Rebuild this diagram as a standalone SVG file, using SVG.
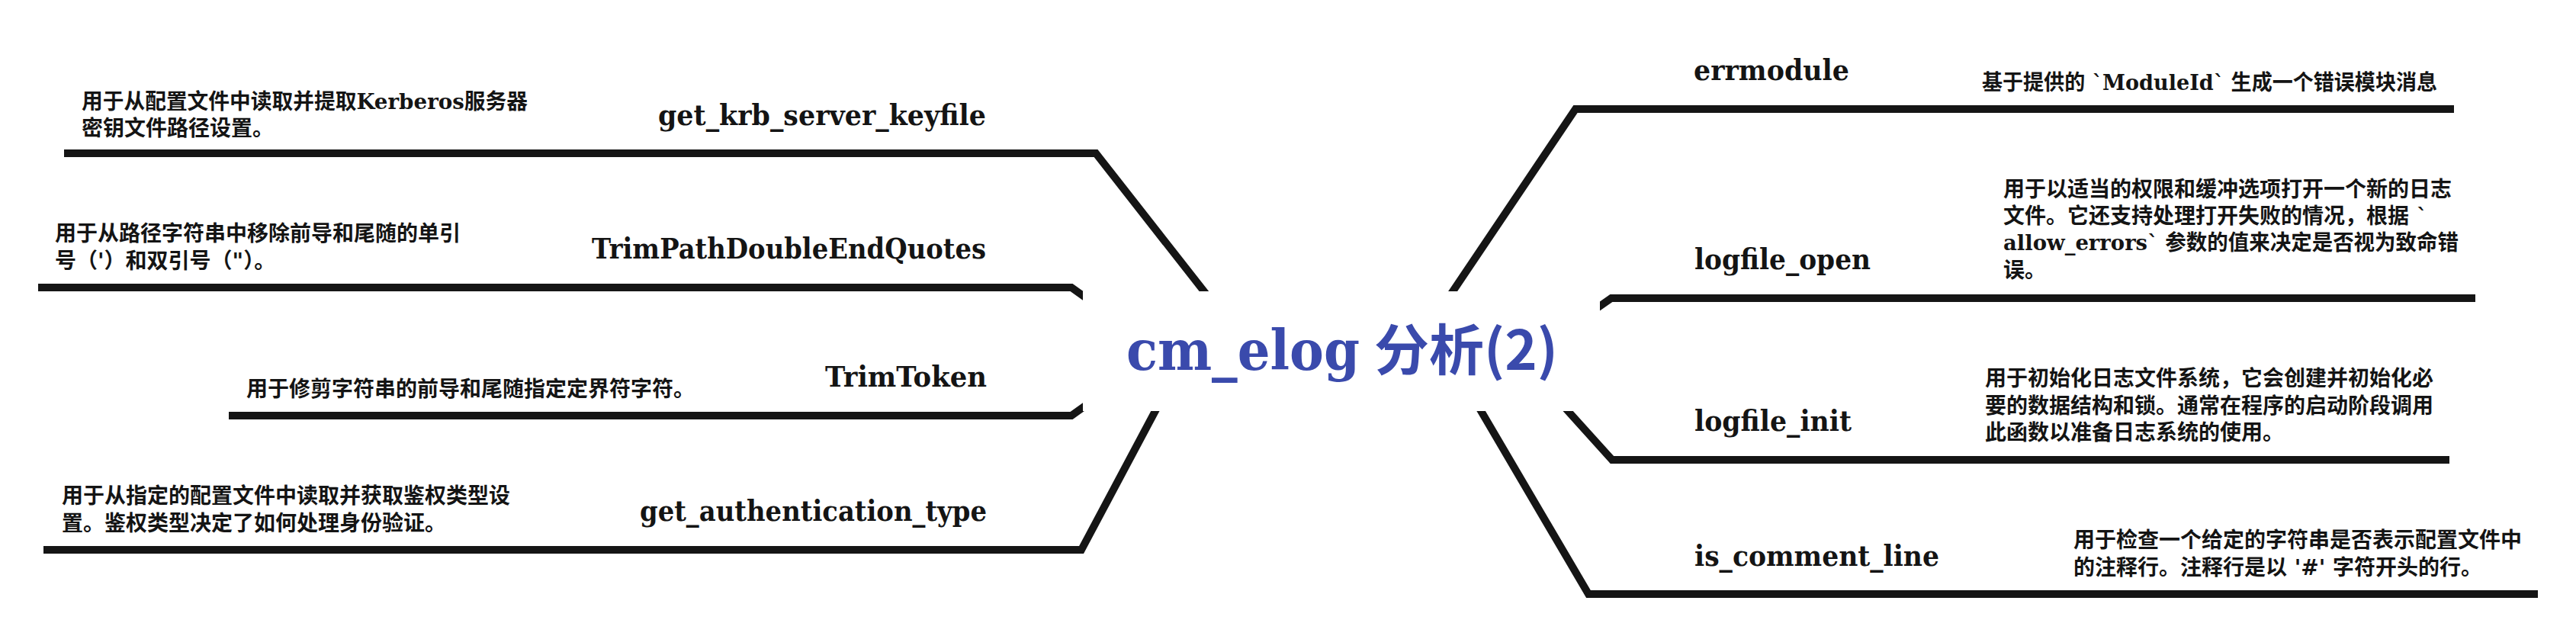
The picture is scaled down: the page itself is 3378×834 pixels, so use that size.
<svg xmlns="http://www.w3.org/2000/svg" width="3378" height="834" viewBox="0 0 3378 834">
<style>
.page{fill:#ffffff}
.conn{fill:none;stroke:#151515;stroke-width:10;stroke-linejoin:miter;stroke-linecap:butt}
.cbox{fill:#ffffff}
.lbl{font-family:"DejaVu Serif","Liberation Serif",serif;font-weight:bold;font-size:38px;fill:#141414}
.desc{font-family:"DejaVu Serif","Noto Sans CJK SC",sans-serif;font-weight:bold;font-size:28px;fill:#141414}
.t1{font-family:"DejaVu Serif","Liberation Serif",serif;font-weight:bold;font-size:72px;fill:#3A4AAC}
.t2{font-family:"Noto Sans CJK SC",sans-serif;font-weight:bold;font-size:72px;fill:#3A4AAC}
</style>
<rect class="page" x="0" y="0" width="3378" height="834"/>
<g id="connectors">
<path class="conn" d="M84 201 H1437 L1593 400"/>
<path class="conn" d="M50 377 H1405 L1440 402"/>
<path class="conn" d="M300 545 H1405 L1440 520"/>
<path class="conn" d="M57 721 H1418 L1525 520"/>
<path class="conn" d="M3218 143 H2066 L1893 400"/>
<path class="conn" d="M3246 391 H2113 L2080 414"/>
<path class="conn" d="M3212 603 H2114 L2039 520"/>
<path class="conn" d="M3328 779 H2083 L1931 520"/>
</g>
<g id="center">
<rect class="cbox" x="1420" y="382" width="678" height="157"/>
<text class="t1" x="1477" y="485" textLength="306" lengthAdjust="spacingAndGlyphs">cm_elog</text>
<text class="t2" x="1802" y="485">分析(2)</text>
</g>
<g id="node-get_krb_server_keyfile">
<text class="lbl" x="863" y="164" textLength="430" lengthAdjust="spacingAndGlyphs">get_krb_server_keyfile</text>
<text class="desc" x="107" y="143" textLength="585" lengthAdjust="spacingAndGlyphs">用于从配置文件中读取并提取Kerberos服务器</text>
<text class="desc" x="107" y="178">密钥文件路径设置。</text>
</g>
<g id="node-TrimPathDoubleEndQuotes">
<text class="lbl" x="776" y="339" textLength="517" lengthAdjust="spacingAndGlyphs">TrimPathDoubleEndQuotes</text>
<text class="desc" x="72" y="316">用于从路径字符串中移除前导和尾随的单引</text>
<text class="desc" x="72" y="352">号（'）和双引号（"）。</text>
</g>
<g id="node-TrimToken">
<text class="lbl" x="1082" y="507" textLength="212" lengthAdjust="spacingAndGlyphs">TrimToken</text>
<text class="desc" x="323" y="520">用于修剪字符串的前导和尾随指定定界符字符。</text>
</g>
<g id="node-get_authentication_type">
<text class="lbl" x="839" y="683" textLength="455" lengthAdjust="spacingAndGlyphs">get_authentication_type</text>
<text class="desc" x="81" y="660">用于从指定的配置文件中读取并获取鉴权类型设</text>
<text class="desc" x="81" y="696">置。鉴权类型决定了如何处理身份验证。</text>
</g>
<g id="node-errmodule">
<text class="lbl" x="2221" y="105" textLength="204" lengthAdjust="spacingAndGlyphs">errmodule</text>
<text class="desc" x="2599" y="118" textLength="597" lengthAdjust="spacingAndGlyphs">基于提供的 `ModuleId` 生成一个错误模块消息</text>
</g>
<g id="node-logfile_open">
<text class="lbl" x="2222" y="353" textLength="231" lengthAdjust="spacingAndGlyphs">logfile_open</text>
<text class="desc" x="2627" y="258">用于以适当的权限和缓冲选项打开一个新的日志</text>
<text class="desc" x="2627" y="293">文件。它还支持处理打开失败的情况，根据 `</text>
<text class="desc" x="2627" y="328" textLength="597" lengthAdjust="spacingAndGlyphs">allow_errors` 参数的值来决定是否视为致命错</text>
<text class="desc" x="2627" y="364">误。</text>
</g>
<g id="node-logfile_init">
<text class="lbl" x="2222" y="565" textLength="206" lengthAdjust="spacingAndGlyphs">logfile_init</text>
<text class="desc" x="2603" y="506">用于初始化日志文件系统，它会创建并初始化必</text>
<text class="desc" x="2603" y="542">要的数据结构和锁。通常在程序的启动阶段调用</text>
<text class="desc" x="2603" y="577">此函数以准备日志系统的使用。</text>
</g>
<g id="node-is_comment_line">
<text class="lbl" x="2222" y="742" textLength="321" lengthAdjust="spacingAndGlyphs">is_comment_line</text>
<text class="desc" x="2719" y="718">用于检查一个给定的字符串是否表示配置文件中</text>
<text class="desc" x="2719" y="754">的注释行。注释行是以 '#' 字符开头的行。</text>
</g>
</svg>
